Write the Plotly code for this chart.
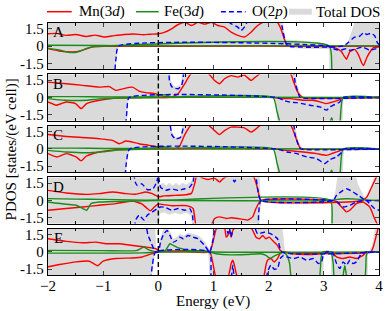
import plotly.graph_objects as go
from plotly.subplots import make_subplots

# ---------------- data (energy in eV, PDOS in states/(eV cell)) ----------------
PANELS = ["A", "B", "C", "D", "E"]
X_TICKS = [-2, -1, 0, 1, 2, 3, 4]
Y_TICKS = [-1.5, 0, 1.5]
Y_TICK_TEXT = ["-1.5", "0", "1.5"]
SERIES_LABELS = ["Mn(3<i>d</i>)", "Fe(3<i>d</i>)", "O(2<i>p</i>)", "Total DOS"]

# ---- panel A
A_TOT_UP = [(-2, 2.6), (2.2, 2.6), (2.27, 1.2), (2.35, 0), (3.4, 0), (3.5, 1.0), (3.62, 2.6), (3.95, 2.6), (4, 1.5)]
A_TOT_DN = [(-2, -2.6), (-0.82, -2.6), (-0.72, 0), (3.08, 0), (3.13, -2.6), (4, -2.6)]
A_MN_UP = [(-2, 1.06), (-1.85, 1.1), (-1.67, 0.92), (-1.5, 1.0), (-1.3, 0.83), (-1.15, 0.95), (-0.98, 0.78),
           (-0.8, 0.9), (-0.62, 1.0), (-0.45, 1.05), (-0.27, 0.98), (-0.15, 1.02), (0, 1.06), (0.12, 1.2),
           (0.24, 1.49), (0.36, 1.87), (0.48, 2.05), (0.6, 1.78), (0.72, 2.05), (0.84, 1.9), (0.96, 2.05),
           (1.08, 1.78), (1.2, 1.64), (1.32, 1.2), (1.44, 0.92), (1.56, 0.78), (1.68, 1.2), (1.8, 1.78),
           (1.92, 2.1), (2.15, 2.1), (2.21, 1.64), (2.27, 0.8), (2.33, 0.05), (2.4, 0), (4, 0)]
A_MN_DN = [(-2, -0.23), (-1.8, -0.43), (-1.55, -0.52), (-1.4, -0.4), (-1.2, -0.1), (-1.0, -0.03), (0, -0.02),
           (3.05, -0.05), (3.23, -0.2), (3.32, -0.5), (3.41, -1.15), (3.47, -0.5), (3.56, -0.3), (3.63, -0.8),
           (3.69, -1.5), (3.72, -1.7), (3.78, -1.0), (3.84, -0.5), (3.9, -0.15), (4, -0.1)]
A_FE_UP = [(-2, 0.06), (-1.0, 0.05), (-0.5, 0.02), (0, 0.01), (4, 0.01)]
A_FE_DN = [(-2, -0.2), (-1.8, -0.35), (-1.6, -0.57), (-1.45, -0.5), (-1.3, -0.2), (-1.15, -0.03), (-1.0, 0),
           (3.1, 0), (3.17, -2.6), (4, -2.6)]
A_O_UP = [(-2, 2.6), (1.22, 2.6), (1.3, 2.0), (1.44, 1.64), (1.5, 1.35), (1.56, 1.64), (1.62, 2.2), (1.66, 2.6),
          (2.2, 2.6), (2.25, 1.5), (2.3, 0.4), (2.35, 0), (3.35, 0), (3.45, 0.34), (3.55, 0.75), (3.65, 0.85),
          (3.72, 1.15), (3.78, 1.0), (3.85, 1.1), (3.92, 0.9), (3.97, 0.3), (4, 0.1)]
A_O_DN = [(-2, -2.6), (-0.82, -2.6), (-0.77, -1.2), (-0.72, 0), (3.08, 0), (3.17, -0.23), (3.29, -0.37),
          (3.41, -0.23), (3.47, -0.37), (3.59, -0.23), (3.71, -0.1), (3.83, -0.37), (3.95, -0.23), (4, -0.2)]

# ---- panel B
B_TOT_UP = [(-2, 2.6), (0.17, 2.6), (0.22, 1.4), (0.28, 0.95), (0.35, 0.9), (0.42, 1.1), (0.47, 2.6),
            (2.43, 2.6), (2.5, 1.2), (2.6, 0), (4, 0)]
B_TOT_DN = [(-2, -2.6), (-0.62, -2.6), (-0.53, 0), (2.1, 0), (2.2, -2.6), (3.3, -2.6), (3.36, 0), (4, 0)]
B_MN_UP = [(-2, 1.34), (-1.67, 1.2), (-1.37, 1.05), (-1.07, 0.9), (-0.89, 0.95), (-0.77, 0.62), (-0.65, 0.75),
           (-0.47, 0.9), (-0.35, 0.56), (-0.23, 0.42), (-0.05, 0.33), (0, 0.19), (0.12, 0.1), (0.24, 0.05),
           (0.36, 0.33), (0.48, 1.2), (0.6, 2.1), (0.9, 2.1), (1.02, 1.48), (1.11, 1.2), (1.2, 1.63),
           (1.32, 1.9), (1.44, 1.77), (1.56, 1.95), (1.68, 1.48), (1.74, 1.7), (1.86, 2.1), (2.39, 2.1),
           (2.45, 1.4), (2.51, 0.62), (2.57, 0.19), (2.62, 0), (4, 0)]
B_MN_DN = [(-2, -0.39), (-1.85, -0.67), (-1.67, -0.39), (-1.5, -0.53), (-1.4, -0.96), (-1.3, -0.53),
           (-1.07, -0.24), (-0.77, -0.05), (-0.47, -0.02), (0, 0), (2.1, 0), (2.2, -0.1), (2.39, -0.1),
           (2.63, -0.24), (2.81, -0.24), (2.93, -0.38), (3.05, -0.53), (3.17, -0.38), (3.23, -0.3),
           (3.35, -0.05), (3.4, 0), (4, 0)]
B_FE_UP = [(-2, 0.08), (-1.5, 0.08), (-1.0, 0.05), (-0.5, 0.05), (-0.1, 0.1), (0.05, 0.2), (0.12, 0.25),
           (0.2, 0.1), (0.35, 0.05), (0.6, 0.05), (1.0, 0.02), (4, 0)]
B_FE_DN = [(-2, -0.1), (-1.7, -0.24), (-1.3, -0.24), (-1.07, -0.12), (-0.7, -0.05), (0, 0), (2.08, 0),
           (2.15, -1.2), (2.25, -2.6), (3.08, -2.6), (3.14, -1.75), (3.2, -2.6), (3.28, -2.6), (3.35, 0), (4, 0)]
B_O_UP = [(-2, 2.6), (0.17, 2.6), (0.2, 1.5), (0.24, 0.95), (0.3, 0.8), (0.36, 0.76), (0.42, 1.05),
          (0.45, 1.6), (0.48, 2.6), (2.42, 2.6), (2.48, 1.3), (2.54, 0.3), (2.57, 0), (4, 0)]
B_O_DN = [(-2, -2.6), (-0.62, -2.6), (-0.57, -1.2), (-0.53, 0), (2.15, 0), (2.27, -0.25), (2.39, -0.4),
          (2.51, -0.45), (2.63, -0.55), (2.75, -0.67), (2.93, -0.82), (3.05, -1.1), (3.11, -0.82),
          (3.17, -0.67), (3.29, -0.39), (3.35, 0), (4, 0)]

# ---- panel C
C_TOT_UP = [(-2, 2.6), (0.19, 2.6), (0.24, 1.4), (0.3, 1.0), (0.36, 0.95), (0.42, 1.15), (0.47, 2.6),
            (2.43, 2.6), (2.5, 1.2), (2.6, 0), (4, 0)]
C_TOT_DN = [(-2, -2.6), (-0.64, -2.6), (-0.52, 0), (2.1, 0), (2.2, -2.6), (3.3, -2.6), (3.37, 0), (4, 0)]
C_MN_UP = [(-2, 1.26), (-1.67, 1.09), (-1.31, 0.98), (-1.07, 0.89), (-0.83, 0.75), (-0.71, 0.46),
           (-0.59, 0.69), (-0.47, 0.6), (-0.35, 0.46), (-0.17, 0.32), (0, 0.17), (0.12, 0.08), (0.3, 0.03),
           (0.38, 0.2), (0.48, 1.25), (0.6, 2.1), (0.9, 2.1), (1.02, 1.6), (1.11, 1.26), (1.2, 1.6),
           (1.32, 1.9), (1.56, 1.84), (1.68, 1.47), (1.77, 1.75), (1.86, 2.1), (2.39, 2.1), (2.51, 0.75),
           (2.57, 0.1), (2.62, 0), (4, 0)]
C_MN_DN = [(-2, -0.4), (-1.84, -0.69), (-1.67, -0.4), (-1.49, -0.69), (-1.4, -1.03), (-1.31, -0.63),
           (-1.07, -0.26), (-0.8, -0.08), (-0.5, -0.02), (0, 0), (2.1, 0), (2.33, -0.12), (2.63, -0.26),
           (2.87, -0.4), (3.05, -0.55), (3.17, -0.35), (3.35, -0.05), (3.4, 0), (4, 0)]
C_FE_UP = [(-2, 0.08), (-1.5, 0.08), (-1.0, 0.05), (-0.5, 0.05), (-0.1, 0.1), (0.05, 0.17), (0.12, 0.2),
           (0.2, 0.1), (0.35, 0.05), (0.6, 0.05), (1.0, 0.02), (4, 0)]
C_FE_DN = [(-2, -0.12), (-1.67, -0.26), (-1.31, -0.33), (-1.0, -0.24), (-0.7, -0.08), (-0.3, -0.02), (0, 0),
           (2.08, 0), (2.15, -1.2), (2.25, -2.6), (3.08, -2.6), (3.14, -1.85), (3.2, -2.6), (3.28, -2.6),
           (3.35, 0), (4, 0)]
C_O_UP = [(-2, 2.6), (0.19, 2.6), (0.22, 1.9), (0.25, 1.18), (0.31, 0.89), (0.4, 1.0), (0.45, 1.8),
          (0.48, 2.6), (2.42, 2.6), (2.48, 1.2), (2.55, 0.2), (2.58, 0), (4, 0)]
C_O_DN = [(-2, -2.6), (-0.63, -2.6), (-0.58, -1.2), (-0.52, 0), (2.15, 0), (2.33, -0.26), (2.51, -0.4),
          (2.69, -0.69), (2.87, -0.83), (2.96, -1.12), (3.02, -1.26), (3.11, -0.92), (3.23, -0.69),
          (3.32, -0.3), (3.36, 0), (4, 0)]

# ---- panel D
D_TOT_UP = [(-2, 2.6), (-0.02, 2.6), (0.02, 1.3), (0.08, 1.45), (0.14, 1.25), (0.2, 1.45), (0.26, 1.25),
            (0.32, 1.45), (0.38, 1.25), (0.44, 1.45), (0.5, 1.3), (0.56, 1.5), (0.62, 1.7), (0.66, 2.6),
            (1.8, 2.6), (1.83, 1.2), (1.87, 0), (3.17, 0), (3.29, 2.6), (3.53, 2.6), (3.6, 1.5), (3.72, 0.3),
            (3.76, 0.1), (3.85, 1.0), (3.97, 2.6), (4, 2.6)]
D_TOT_DN = [(-2, -2.6), (-0.02, -2.6), (0.02, -1.1), (0.1, -0.95), (0.2, -1.15), (0.3, -1.0), (0.4, -1.15),
            (0.5, -1.0), (0.6, -1.3), (0.66, -2.6), (1.8, -2.6), (1.83, -1.2), (1.87, 0), (3.12, 0),
            (3.17, -2.6), (4, -2.6)]
D_MN_UP = [(-2, 0.88), (-1.67, 0.65), (-1.31, 0.53), (-1.07, 0.6), (-0.83, 0.74), (-0.59, 0.6), (-0.4, 0.55),
           (-0.23, 0.74), (-0.11, 0.6), (0, 0.33), (0.1, 0.4), (0.3, 0.45), (0.5, 0.5), (0.6, 0.62),
           (0.66, 1.5), (0.7, 2.2), (0.81, 1.95), (0.9, 1.83), (1.02, 1.95), (1.11, 1.6), (1.17, 1.88),
           (1.25, 2.1), (1.72, 2.1), (1.8, 1.02), (1.86, 0), (3.7, 0), (3.78, 0.3), (3.87, 1.2), (3.97, 2.2),
           (4, 2.4)]
D_MN_DN = [(-2, -0.85), (-1.67, -0.7), (-1.37, -0.56), (-1.07, -0.41), (-0.77, -0.27), (-0.47, -0.04),
           (-0.3, -0.3), (-0.2, -0.7), (-0.14, -0.9), (-0.08, -0.6), (0, -0.3), (0.12, -0.38), (0.25, -0.45),
           (0.5, -0.45), (0.63, -0.7), (0.69, -2.2), (0.95, -2.2), (1.02, -1.56), (1.11, -1.42), (1.23, -1.56),
           (1.32, -1.5), (1.44, -1.56), (1.62, -1.7), (1.71, -1.42), (1.77, -0.7), (1.86, 0), (3.17, 0),
           (3.23, -0.13), (3.35, -0.7), (3.41, -0.99), (3.47, -0.85), (3.53, -0.56), (3.59, -0.27),
           (3.71, -0.13), (3.83, -0.56), (3.92, -1.57), (3.98, -2.2), (4, -2.4)]
D_FE_UP = [(-2, 0.16), (-1.5, 0.12), (-1.0, 0.1), (-0.5, 0.05), (0, 0.02), (3.15, 0), (3.25, 0.1),
           (3.4, 0.15), (3.6, 0.12), (3.75, 0.05), (4, 0)]
D_FE_DN = [(-2, -0.13), (-1.67, -0.33), (-1.49, -0.41), (-1.37, -0.7), (-1.3, -0.85), (-1.22, -0.27),
           (-1.07, -0.13), (-0.5, -0.05), (0, 0), (3.12, 0), (3.17, -2.6), (4, -2.6)]
D_O_UP = [(-2, 2.6), (-0.47, 2.6), (-0.42, 1.6), (-0.38, 1.3), (-0.3, 1.45), (-0.2, 0.95), (-0.1, 1.0),
          (-0.03, 1.6), (0, 2.2), (0.04, 1.17), (0.13, 0.88), (0.24, 1.02), (0.36, 0.88), (0.48, 1.02),
          (0.57, 1.17), (0.63, 1.6), (0.67, 2.6), (1.3, 2.6), (1.35, 1.9), (1.38, 1.6), (1.42, 2.0),
          (1.45, 2.6), (1.74, 2.6), (1.8, 1.0), (1.86, 0), (3.17, 0), (3.23, 0.45), (3.35, 0.88),
          (3.41, 1.02), (3.53, 0.74), (3.62, 0.45), (3.71, 0.16), (3.77, 0), (4, 0)]
D_O_DN = [(-2, -2.6), (-0.47, -2.6), (-0.4, -1.6), (-0.35, -1.28), (-0.26, -1.7), (-0.2, -1.28),
          (-0.11, -1.0), (-0.02, -0.7), (0.04, -0.56), (0.13, -0.6), (0.24, -0.85), (0.36, -0.7),
          (0.48, -0.85), (0.57, -0.7), (0.62, -1.3), (0.66, -2.6), (1.78, -2.6), (1.82, -1.0), (1.86, 0),
          (3.17, 0), (3.23, -0.07), (3.35, -0.56), (3.47, -0.42), (3.59, -0.13), (3.77, 0), (3.83, -0.27),
          (3.92, -0.7), (4, -0.85)]

# ---- panel E
E_TOT_UP = [(-2, 2.6), (-0.1, 2.6), (-0.05, 0.3), (0.0, 0.1), (0.04, 1.0), (0.1, 1.9), (0.16, 2.1),
            (0.21, 1.65), (0.27, 1.1), (0.33, 1.2), (0.39, 1.5), (0.45, 1.35), (0.54, 1.6), (0.63, 1.5),
            (0.72, 1.35), (0.84, 0.8), (0.93, 0.1), (0.98, 1.0), (1.04, 2.6), (2.2, 2.6), (2.27, 0.5),
            (2.3, 0), (3.8, 0), (3.88, 0.5), (3.97, 2.6), (4, 2.6)]
E_TOT_DN = [(-2, -2.6), (-0.17, -2.6), (-0.05, 0), (0.9, 0), (0.97, -2.6), (2.95, -2.6), (2.99, 0),
            (3.13, 0), (3.17, -2.6), (3.76, -2.6), (3.8, 0), (4, 0)]
E_MN_UP = [(-2, 1.15), (-1.67, 0.92), (-1.37, 0.8), (-1.13, 0.86), (-0.95, 0.72), (-0.71, 0.72),
           (-0.47, 0.57), (-0.23, 0.43), (-0.05, 0.29), (0, 0.14), (0.1, 0.03), (0.5, 0.02), (0.93, 0),
           (0.99, 0.86), (1.05, 2.0), (1.1, 2.2), (1.2, 2.1), (1.23, 1.29), (1.26, 1.44), (1.29, 1.87),
           (1.32, 1.29), (1.35, 1.87), (1.42, 2.2), (1.68, 2.1), (1.74, 1.58), (1.77, 1.29), (1.83, 1.15),
           (1.89, 1.44), (1.95, 1.15), (2.01, 1.29), (2.07, 1.0), (2.16, 0.57), (2.21, 0.14), (2.27, 0),
           (3.85, 0), (3.9, 0.5), (3.97, 1.8), (4, 2.4)]
E_MN_DN = [(-2, -1.29), (-1.79, -1.09), (-1.49, -0.86), (-1.25, -0.8), (-1.1, -1.2), (-1.0, -0.8),
           (-0.77, -0.57), (-0.47, -0.52), (-0.29, -0.43), (-0.11, -0.14), (0, 0), (0.93, 0), (0.99, -1.0),
           (1.05, -2.2), (1.26, -2.2), (1.32, -1.0), (1.35, -0.72), (1.38, -1.15), (1.44, -2.2), (1.9, -2.2),
           (1.95, -1.15), (1.98, -0.72), (2.04, -0.57), (2.1, -0.86), (2.16, -0.57), (2.21, -0.14),
           (2.27, 0), (2.4, -0.14), (2.7, -0.23), (2.95, -0.14), (3.0, -0.05), (3.15, 0), (3.23, -0.43),
           (3.35, -0.57), (3.47, -0.43), (3.59, -0.57), (3.71, -0.29), (3.77, 0), (4, 0)]
E_FE_UP = [(-2, 0.14), (-1.0, 0.12), (-0.4, 0.12), (-0.32, 0.3), (-0.26, 0.43), (-0.18, 0.2), (-0.1, 0.08),
           (0, 0.02), (0.13, 0.14), (0.21, 0.72), (0.27, 0.57), (0.33, 0.43), (0.42, 0.29), (0.54, 0.14),
           (0.84, 0.06), (1.0, 0), (4, 0)]
E_FE_DN = [(-2, -0.1), (-1.0, -0.1), (-0.3, -0.08), (0, 0), (0.93, 0), (1.05, -0.15), (1.3, -0.25),
           (1.6, -0.22), (1.85, -0.15), (1.95, -0.3), (2.03, -0.55), (2.1, -0.35), (2.2, -0.15), (2.27, 0),
           (2.33, -0.3), (2.38, -1.0), (2.43, -2.6), (2.9, -2.6), (2.95, -0.5), (2.98, 0), (3.13, 0),
           (3.17, -1.0), (3.2, -2.6), (3.32, -2.6), (3.38, -1.2), (3.44, -2.6), (3.73, -2.6), (3.77, -0.3),
           (3.8, 0), (4, 0)]
E_O_UP = [(-2, 2.6), (-0.25, 2.6), (-0.19, 1.5), (-0.13, 0.8), (-0.07, 0.1), (-0.04, 0), (0.0, 0),
          (0.04, 0.86), (0.1, 1.58), (0.16, 1.87), (0.21, 1.44), (0.27, 0.86), (0.33, 1.0), (0.39, 1.29),
          (0.45, 1.15), (0.54, 1.44), (0.63, 1.29), (0.72, 1.15), (0.84, 0.57), (0.93, 0), (0.99, 1.0),
          (1.05, 2.6), (1.22, 2.6), (1.26, 1.6), (1.29, 2.0), (1.32, 1.3), (1.35, 2.0), (1.4, 2.6),
          (1.7, 2.6), (1.8, 1.58), (1.92, 1.72), (2.04, 1.58), (2.16, 1.15), (2.24, 0), (4, 0)]
E_O_DN = [(-2, -2.6), (-0.17, -2.6), (-0.11, -1.2), (-0.05, 0), (0.93, 0), (0.97, -2.6), (1.3, -2.6),
          (1.35, -1.15), (1.4, -2.6), (1.94, -2.6), (1.98, -1.72), (2.04, -1.15), (2.1, -1.5), (2.16, -1.44),
          (2.21, -0.57), (2.27, -0.3), (2.33, -0.43), (2.45, -0.57), (2.57, -0.43), (2.69, -0.72),
          (2.81, -0.57), (2.9, -1.0), (2.96, -0.86), (2.99, -0.29), (3.05, 0), (3.13, 0), (3.17, -0.14),
          (3.23, -1.0), (3.29, -1.44), (3.35, -0.86), (3.41, -1.15), (3.47, -0.72), (3.53, -1.0),
          (3.59, -0.86), (3.68, -0.14), (3.77, 0), (4, 0)]

# ---------------- assemble ----------------
DATA = {
    "A": (A_TOT_UP, A_TOT_DN, A_MN_UP, A_MN_DN, A_FE_UP, A_FE_DN, A_O_UP, A_O_DN),
    "B": (B_TOT_UP, B_TOT_DN, B_MN_UP, B_MN_DN, B_FE_UP, B_FE_DN, B_O_UP, B_O_DN),
    "C": (C_TOT_UP, C_TOT_DN, C_MN_UP, C_MN_DN, C_FE_UP, C_FE_DN, C_O_UP, C_O_DN),
    "D": (D_TOT_UP, D_TOT_DN, D_MN_UP, D_MN_DN, D_FE_UP, D_FE_DN, D_O_UP, D_O_DN),
    "E": (E_TOT_UP, E_TOT_DN, E_MN_UP, E_MN_DN, E_FE_UP, E_FE_DN, E_O_UP, E_O_DN),
}

RED = "#ff0000"
GREEN = "#1a8c1a"
BLUE = "#0000ff"
GRAY = "#dadada"
FONT = "Liberation Serif"
LW = 1.4

fig = make_subplots(rows=5, cols=1, shared_xaxes=True, vertical_spacing=0.0218)


def xy(pts):
    return [p[0] for p in pts], [p[1] for p in pts]


for i, p in enumerate(PANELS):
    row = i + 1
    tu, td, mu, md, fu, fd, ou, od = DATA[p]
    for pts in (tu, td):
        x, y = xy(pts)
        fig.add_trace(go.Scatter(x=x, y=y, mode="lines", fill="tozeroy", fillcolor=GRAY,
                                 line=dict(color=GRAY, width=1.5, shape="spline", smoothing=0.5),
                                 showlegend=False, hoverinfo="skip"), row=row, col=1)
    for pts, col, dash in ((mu, RED, "solid"), (md, RED, "solid"),
                           (fu, GREEN, "solid"), (fd, GREEN, "solid"),
                           (ou, BLUE, "5px,3px"), (od, BLUE, "5px,3px")):
        x, y = xy(pts)
        fig.add_trace(go.Scatter(x=x, y=y, mode="lines",
                                 line=dict(color=col, width=LW, dash=dash, shape="spline", smoothing=0.5),
                                 showlegend=False, hoverinfo="skip"), row=row, col=1)
    yname = "y" if row == 1 else f"y{row}"
    xname = "x" if row == 1 else f"x{row}"
    fig.add_shape(type="line", xref=xname, yref=f"{yname} domain", x0=0, x1=0, y0=0, y1=1,
                  line=dict(color="black", width=1.4, dash="5px,3px"))
    fig.add_annotation(x=-1.81, y=1.2, xref=xname, yref=yname, text=p, showarrow=False,
                       font=dict(family=FONT, size=15, color="black"))

fig.update_yaxes(range=[-2, 2], tickvals=Y_TICKS, ticktext=Y_TICK_TEXT, ticks="inside", ticklen=4,
                 showline=True, linecolor="black", linewidth=1.2, mirror="ticks", showgrid=False,
                 zeroline=False, tickfont=dict(family=FONT, size=15, color="black"))
fig.update_xaxes(range=[-2, 4], tickvals=X_TICKS, ticks="inside", ticklen=4,
                 minor=dict(dtick=0.5, ticks="inside", ticklen=2.5, tickcolor="black"),
                 showline=True, linecolor="black", linewidth=1.2, mirror="ticks", showgrid=False,
                 zeroline=False, tickfont=dict(family=FONT, size=15, color="black"),
                 showticklabels=False)
fig.update_xaxes(showticklabels=True, ticklabelstandoff=-3, row=5, col=1)

# ---------------- manual legend & titles (pixel -> paper coords) ----------------
L, T, W, H = 48, 23, 335, 252


def px(v):
    return (v - L) / W


def py(v):
    return (T + H - v) / H


ly = py(11.7)
legend_items = [
    (47, 72, 77, SERIES_LABELS[0], RED, 1.5, "solid"),
    (137, 160, 163, SERIES_LABELS[1], GREEN, 1.5, "solid"),
    (223, 248, 252, SERIES_LABELS[2], BLUE, 1.5, "5px,3px"),
    (292, 315, 317, SERIES_LABELS[3], GRAY, 6, "solid"),
]
for x0, x1, xt, label, col, w, dash in legend_items:
    fig.add_shape(type="line", xref="paper", yref="paper", x0=px(x0), x1=px(x1), y0=ly, y1=ly,
                  line=dict(color=col, width=w, dash=dash))
    fig.add_annotation(x=px(xt), y=ly, xref="paper", yref="paper", text=label, showarrow=False,
                       xanchor="left", yanchor="middle", font=dict(family=FONT, size=15, color="black"))

fig.add_annotation(x=px(11), y=0.5, xref="paper", yref="paper", text="PDOS [states/(eV cell)]",
                   textangle=-90, showarrow=False, xanchor="center", yanchor="middle",
                   font=dict(family=FONT, size=15, color="black"))
fig.add_annotation(x=px(215), y=py(301), xref="paper", yref="paper", text="Energy (eV)",
                   showarrow=False, xanchor="center", yanchor="middle", borderpad=0,
                   font=dict(family=FONT, size=15, color="black"))

fig.update_layout(width=390, height=311, margin=dict(l=L, r=390 - L - W, t=T, b=311 - T - H),
                  paper_bgcolor="white", plot_bgcolor="white", showlegend=False)

fig.write_html("out.html", config={"displayModeBar": False, "staticPlot": True},
               post_script="document.body.style.margin='0';document.body.style.overflow='hidden';")
